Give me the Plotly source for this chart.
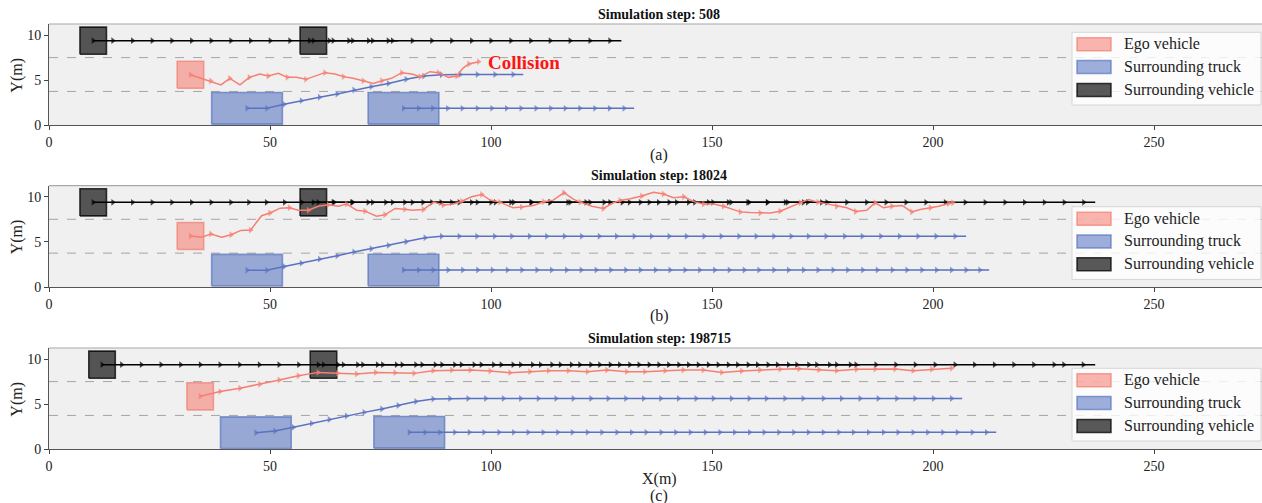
import plotly.graph_objects as go

# ---------------- data ----------------
TITLES = ["Simulation step: 508", "Simulation step: 18024", "Simulation step: 198715"]
CAPTIONS = ["(a)", "(b)", "(c)"]
X_TICKS = [0, 50, 100, 150, 200, 250]
Y_TICKS = [0, 5, 10]
LANE_BOUNDS = [3.75, 7.5]
LEGEND_LABELS = ["Ego vehicle", "Surrounding truck", "Surrounding vehicle"]

CAR_LEN, CAR_WID = 6.0, 3.0
TRUCK_LEN, TRUCK_WID = 16.0, 3.5

# ---- panel (a) ----
EGO_X_A = [32.0, 34.5, 36.6, 38.9, 40.9, 43.2, 45.3, 47.7, 49.6, 51.9, 53.9, 56.0, 58.1, 60.3, 62.4, 64.7,
           66.6, 68.8, 71.1, 73.4, 75.3, 77.5, 79.8, 82.1, 84.0, 86.2, 88.1, 90.4, 92.3, 93.6, 95.0, 97.2]
EGO_Y_A = [5.60, 5.20, 4.90, 4.47, 5.20, 4.47, 5.31, 5.68, 5.46, 5.75, 5.31, 5.31, 5.09, 5.45, 5.83, 5.68,
           5.39, 5.20, 4.94, 4.64, 4.94, 5.20, 5.83, 5.68, 5.39, 5.94, 5.83, 5.31, 5.46, 6.31, 6.79, 7.05]
TRUCK1_X_A = [44.8, 49.3, 53.2, 57.1, 61.2, 65.2, 69.0, 72.9, 76.8, 80.8, 84.8, 88.8, 93.0, 96.9, 100.9, 105.0, 107.3]
TRUCK1_Y_A = [1.88, 1.88, 2.32, 2.73, 3.10, 3.47, 3.91, 4.28, 4.64, 5.10, 5.45, 5.60, 5.625, 5.625, 5.625, 5.625, 5.625]
TRUCK2_X_A = [80.2, 83.6, 86.8, 90.2, 93.5, 96.9, 100.2, 103.5, 106.8, 110.2, 113.5, 116.8, 120.1, 123.5, 126.8, 130.1, 132.4]
TRUCK2_Y_A = [1.875] * 17
CAR1_X_A = [10.0, 14.45, 18.9, 23.35, 27.8, 32.25, 36.7, 41.15, 45.6, 50.05, 54.5, 58.95, 63.4, 67.85, 72.3, 76.75, 79.0]
CAR1_Y_A = [9.375] * 17
CAR2_X_A = [59.8, 64.3, 68.7, 73.2, 77.7, 82.2, 86.6, 91.1, 95.6, 100.0, 104.5, 109.0, 113.4, 117.9, 122.4, 126.9, 129.5]
CAR2_Y_A = [9.375] * 17

# ---- panel (b) ----
EGO_X_B = [32.0, 34.5, 36.6, 39.1, 41.2, 43.4, 45.6, 48.1, 50.0, 52.3, 54.4, 56.4, 58.7, 60.9, 63.2, 65.5,
           67.3, 69.6, 71.5, 74.1, 76.0, 78.3, 80.5, 82.1, 84.7, 87.0, 89.2, 91.5, 93.4, 95.6, 97.9, 99.8,
           102.0, 105.0, 106.9, 109.6, 111.9, 114.1, 116.5, 118.7, 120.2, 122.8, 125.4, 127.7, 129.2, 131.5,
           134.1, 136.8, 139.0, 141.3, 143.6, 146.2, 148.1, 150.4, 152.6, 154.5, 156.4, 158.6, 160.9, 163.2,
           165.4, 167.7, 170.0, 171.8, 174.0, 176.1, 178.2, 180.5, 182.5, 185.0, 186.9, 188.8, 190.7, 193.0,
           195.2, 197.1, 199.4, 201.3, 203.5, 204.5]
EGO_Y_B = [5.65, 5.50, 5.87, 5.50, 5.79, 6.27, 6.30, 7.90, 8.20, 8.73, 8.77, 8.50, 8.50, 8.95, 9.10, 8.95,
           9.20, 8.50, 8.40, 7.85, 8.00, 8.70, 8.60, 8.50, 8.58, 9.40, 9.07, 9.20, 9.50, 9.99, 10.25, 9.63,
           9.40, 8.77, 8.85, 9.03, 9.44, 9.62, 10.44, 9.70, 9.40, 8.95, 8.70, 9.33, 9.59, 9.77,
           10.07, 10.50, 10.30, 9.88, 9.99, 9.40, 9.20, 9.20, 8.95, 8.60, 8.32, 8.25, 8.20, 8.20,
           8.40, 8.84, 9.33, 9.70, 9.40, 9.20, 8.95, 8.77, 8.36, 8.50, 9.33, 8.77, 8.95, 9.03,
           8.32, 8.58, 8.77, 8.95, 9.25, 9.33]
TRUCK1_X_B = [44.8, 49.3, 53.2, 57.1, 61.2, 65.2, 69.0, 72.9, 76.8, 80.8, 85.1, 88.8, 92.8, 96.8, 100.8, 104.7,
              108.7, 112.6, 116.6, 120.5, 124.5, 128.4, 132.4, 136.3, 140.3, 144.2, 148.2, 152.1, 156.1, 160.0,
              164.0, 167.9, 171.8, 175.8, 180.0, 184.0, 188.2, 192.4, 196.6, 200.7, 205.0, 207.5]
TRUCK1_Y_B = [1.86, 1.86, 2.27, 2.64, 3.09, 3.46, 3.87, 4.24, 4.61, 5.02, 5.46, 5.625] + [5.625] * 30
TRUCK2_X_B = [80.2, 83.6, 86.9, 90.3, 93.6, 97.0, 100.3, 103.7, 107.0, 110.4, 113.7, 117.1, 120.4, 123.8,
              127.1, 130.5, 133.8, 137.2, 140.5, 143.9, 147.2, 150.6, 153.9, 157.3, 160.6, 164.0, 167.3,
              170.7, 174.0, 177.4, 180.7, 184.1, 187.4, 190.8, 194.1, 197.5, 200.8, 204.2, 207.5, 210.6, 212.7]
TRUCK2_Y_B = [1.875] * 41
CAR1_X_B = [10.0, 14.45, 18.9, 23.35, 27.8, 32.25, 36.7, 41.15, 45.2, 49.2, 53.3, 57.2, 60.9, 64.5, 68.5,
            72.2, 76.2, 80.5, 84.6, 88.7, 92.8, 96.9, 101.0, 105.1, 109.2, 113.3, 117.4, 121.5, 125.6, 129.7,
            133.8, 137.9, 142.0, 146.1, 150.2, 154.3, 158.4, 162.5, 166.6, 170.7, 174.8, 177.0]
CAR1_Y_B = [9.375] * 42
CAR2_X_B = [59.8, 64.3, 68.7, 73.2, 77.7, 82.2, 86.6, 91.1, 95.6, 100.0, 104.5, 109.0, 113.4, 117.9, 122.4,
            126.9, 131.3, 135.8, 140.3, 144.7, 149.2, 153.7, 158.1, 162.6, 167.1, 171.6, 176.0, 180.5, 185.0,
            189.4, 193.9, 198.4, 202.8, 207.3, 211.8, 216.3, 220.7, 225.2, 229.7, 234.1, 236.7]
CAR2_Y_B = [9.375] * 41

# ---- panel (c) ----
EGO_X_C = [34.2, 38.7, 43.2, 47.7, 52.1, 56.4, 60.9, 65.3, 69.6, 73.9, 78.3, 82.6, 86.9, 91.1, 95.3, 99.8,
           104.3, 108.8, 113.0, 117.5, 121.8, 126.2, 130.7, 134.8, 139.4, 143.5, 148.0, 152.2, 156.7, 160.8,
           165.4, 169.7, 174.2, 178.2, 182.7, 186.9, 191.4, 195.5, 199.7, 204.2]
EGO_Y_C = [5.87, 6.39, 6.76, 7.20, 7.68, 8.15, 8.52, 8.41, 8.34, 8.52, 8.49, 8.41, 8.71, 8.78, 8.78, 8.67,
           8.49, 8.60, 8.71, 8.71, 8.60, 8.78, 8.60, 8.60, 8.71, 8.78, 8.78, 8.52, 8.67, 8.78,
           8.86, 8.93, 8.82, 8.71, 8.86, 8.89, 8.89, 8.71, 8.86, 8.97]
TRUCK1_X_C = [46.8, 51.1, 55.3, 59.4, 63.4, 67.3, 71.3, 75.3, 79.0, 83.0, 86.9, 90.7, 94.8, 98.8, 102.8, 106.7,
              110.7, 114.7, 118.6, 122.6, 126.5, 130.5, 134.5, 138.4, 142.4, 146.4, 150.3, 154.4, 158.4, 162.3,
              166.5, 170.6, 175.2, 179.3, 183.5, 187.6, 191.8, 195.9, 200.1, 204.2, 206.6]
TRUCK1_Y_C = [1.84, 2.03, 2.43, 2.87, 3.31, 3.68, 4.09, 4.46, 4.86, 5.30, 5.57, 5.625] + [5.625] * 29
TRUCK2_X_C = [81.5, 85.1, 88.4, 91.8, 95.1, 98.4, 101.8, 105.1, 108.4, 111.8, 115.1, 118.4, 121.8, 125.1,
              128.5, 131.8, 135.1, 138.5, 141.8, 145.1, 148.5, 151.8, 155.1, 158.5, 161.8, 165.1, 168.5,
              171.8, 175.2, 178.7, 182.0, 185.4, 188.8, 192.1, 195.5, 198.8, 202.2, 205.5, 208.9, 212.1, 214.3]
TRUCK2_Y_C = [1.875] * 41
CAR1_X_C = [12.0, 16.45, 20.9, 25.35, 29.8, 34.25, 38.7, 43.15, 47.6, 52.05, 56.5, 60.95, 65.4, 69.85, 74.3,
            78.6, 83.0, 87.4, 91.8, 96.2, 100.6, 105.0, 109.4, 113.8, 118.2, 122.6, 127.0, 131.4, 135.8,
            140.2, 144.7, 149.2, 153.7, 158.2, 162.7, 167.3, 171.9, 176.6, 181.3, 183.5]
CAR1_Y_C = [9.375] * 40
CAR2_X_C = [62.1, 66.6, 71.0, 75.5, 79.9, 84.4, 88.9, 93.3, 97.8, 102.3, 106.7, 111.2, 115.7, 120.1, 124.6,
            129.1, 133.5, 138.0, 142.5, 146.9, 151.4, 155.8, 160.3, 164.8, 169.2, 173.7, 178.2, 182.6, 187.1,
            191.6, 196.0, 200.5, 205.0, 209.4, 213.9, 218.3, 222.8, 227.4, 229.6, 234.0, 236.7]
CAR2_Y_C = [9.375] * 41

PANELS = [
    dict(ego=(EGO_X_A, EGO_Y_A), trucks=[(TRUCK1_X_A, TRUCK1_Y_A), (TRUCK2_X_A, TRUCK2_Y_A)],
         cars=[(CAR1_X_A, CAR1_Y_A), (CAR2_X_A, CAR2_Y_A)], ego_every=2),
    dict(ego=(EGO_X_B, EGO_Y_B), trucks=[(TRUCK1_X_B, TRUCK1_Y_B), (TRUCK2_X_B, TRUCK2_Y_B)],
         cars=[(CAR1_X_B, CAR1_Y_B), (CAR2_X_B, CAR2_Y_B)], ego_every=2),
    dict(ego=(EGO_X_C, EGO_Y_C), trucks=[(TRUCK1_X_C, TRUCK1_Y_C), (TRUCK2_X_C, TRUCK2_Y_C)],
         cars=[(CAR1_X_C, CAR1_Y_C), (CAR2_X_C, CAR2_Y_C)], ego_every=1),
]

# ---------------- style ----------------
W, H = 1262, 503
FONT = "Liberation Serif"
EGO_LINE = "#F67F72"
EGO_FILL = "rgba(246,120,108,0.55)"
EGO_EDGE = "rgba(240,120,108,0.65)"
TRUCK_LINE = "#5A72C0"
TRUCK_FILL = "rgba(80,109,189,0.55)"
TRUCK_EDGE = "rgba(80,109,189,0.65)"
CAR_LINE = "#000000"
CAR_FILL = "rgba(0,0,0,0.65)"
CAR_EDGE = "rgba(0,0,0,0.75)"

PLOT_L, PLOT_R = 49, 1262
PLOT_TB = [(24.0, 125.3), (185.7, 287.0), (348.0, 449.3)]
LEGEND_OFFSET = [8.3, 21.0, 20.3]
X_RANGE = [0, (PLOT_R - PLOT_L) / 4.42]
Y_RANGE = [0, 11.22]


def px(xp):
    return xp / W


def py(yp):
    return 1 - yp / H


fig = go.Figure()


def marker_sizes(n, every, mark_last):
    s = [6 if i % every == 0 else 0 for i in range(n)]
    s[-1] = 6 if mark_last else 0
    return s


def add_rect(cx, cy, length, width, fill, edge, xa, ya):
    x0, x1 = cx - length / 2, cx + length / 2
    y0, y1 = cy - width / 2, cy + width / 2
    fig.add_trace(go.Scatter(x=[x0, x1, x1, x0, x0], y=[y0, y0, y1, y1, y0], mode="lines",
                             fill="toself", fillcolor=fill, line=dict(color=edge, width=1.6),
                             xaxis=xa, yaxis=ya, hoverinfo="skip", showlegend=False))


def add_traj(xs, ys, color, every, mark_last, xa, ya):
    fig.add_trace(go.Scatter(x=xs, y=ys, mode="lines+markers",
                             line=dict(color=color, width=1.5),
                             marker=dict(symbol="triangle-right", color=color,
                                         size=marker_sizes(len(xs), every, mark_last),
                                         line=dict(width=0)),
                             xaxis=xa, yaxis=ya, hoverinfo="skip", showlegend=False))


layout = dict(width=W, height=H, margin=dict(l=0, r=0, t=0, b=0, autoexpand=False),
              paper_bgcolor="white", plot_bgcolor="#F0F0F0", showlegend=False,
              font=dict(family=FONT, color="#222"))
shapes = []
annotations = []

for i, P in enumerate(PANELS):
    sfx = "" if i == 0 else str(i + 1)
    xa, ya = "x" + sfx, "y" + sfx
    top, bot = PLOT_TB[i]
    axis_common = dict(showgrid=False, zeroline=False, showline=True, linecolor="#555", linewidth=1,
                       ticks="outside", ticklen=4, tickwidth=1, tickcolor="#444", automargin=False,
                       tickfont=dict(family=FONT, size=14, color="#222"))
    layout["xaxis" + sfx] = dict(domain=[px(PLOT_L), 1], range=X_RANGE, anchor=ya,
                                 tickvals=X_TICKS, **axis_common)
    layout["yaxis" + sfx] = dict(domain=[py(bot), py(top)], range=Y_RANGE, anchor=xa,
                                 tickvals=Y_TICKS, **axis_common)

    # lane boundaries
    for yb in LANE_BOUNDS:
        shapes.append(dict(type="line", xref=xa + " domain", yref=ya, x0=0, x1=1, y0=yb, y1=yb,
                           line=dict(color="#A5A5A5", width=1, dash="dash"), layer="below"))
    # top border
    shapes.append(dict(type="line", xref=xa + " domain", yref=ya + " domain", x0=0, x1=1, y0=1, y1=1,
                       line=dict(color="#A8A8A8", width=1.2)))

    # vehicle boxes at initial positions
    for (tx, ty) in P["trucks"]:
        add_rect(tx[0], ty[0], TRUCK_LEN, TRUCK_WID, TRUCK_FILL, TRUCK_EDGE, xa, ya)
    for (cx, cy) in P["cars"]:
        add_rect(cx[0], cy[0], CAR_LEN, CAR_WID, CAR_FILL, CAR_EDGE, xa, ya)
    ex, ey = P["ego"]
    add_rect(ex[0], ey[0], CAR_LEN, CAR_WID, EGO_FILL, EGO_EDGE, xa, ya)

    # trajectories
    for (cx, cy) in P["cars"]:
        add_traj(cx, cy, CAR_LINE, 1, False, xa, ya)
    for (tx, ty) in P["trucks"]:
        add_traj(tx, ty, TRUCK_LINE, 1, False, xa, ya)
    add_traj(ex, ey, EGO_LINE, P["ego_every"], True, xa, ya)

    # title & caption
    annotations.append(dict(text="<b>" + TITLES[i] + "</b>", xref="paper", yref="paper",
                            x=px(659), y=py(top - 10), xanchor="center", yanchor="middle",
                            showarrow=False, font=dict(family=FONT, size=14, color="#111")))
    cap_y = [155, 316, 496][i]
    annotations.append(dict(text=CAPTIONS[i], xref="paper", yref="paper", x=px(659), y=py(cap_y),
                            xanchor="center", yanchor="middle", showarrow=False,
                            font=dict(family=FONT, size=16, color="#222")))
    annotations.append(dict(text="Y(m)", xref="paper", yref="paper", x=px(17), y=py((top + bot) / 2 + 1),
                            xanchor="center", yanchor="middle", textangle=-90, showarrow=False,
                            font=dict(family=FONT, size=16, color="#222")))

    # manual legend
    lx0, lx1 = 1072, 1261
    ltop = top + LEGEND_OFFSET[i]
    lbot = ltop + 72.7
    shapes.append(dict(type="rect", xref="paper", yref="paper", x0=px(lx0), x1=px(lx1),
                       y0=py(lbot), y1=py(ltop), fillcolor="rgba(255,255,255,0.8)",
                       line=dict(color="#D6D6D6", width=1), layer="above"))
    fills = [(EGO_FILL, EGO_EDGE), (TRUCK_FILL, TRUCK_EDGE), (CAR_FILL, CAR_EDGE)]
    for k, lab in enumerate(LEGEND_LABELS):
        rc = ltop + 12.0 + k * 22.8
        shapes.append(dict(type="rect", xref="paper", yref="paper", x0=px(1077), x1=px(1111),
                           y0=py(rc + 6.5), y1=py(rc - 6.5), fillcolor=fills[k][0],
                           line=dict(color=fills[k][1], width=1.5), layer="above"))
        annotations.append(dict(text=lab, xref="paper", yref="paper", x=px(1122), y=py(rc),
                                xanchor="left", yanchor="middle", showarrow=False,
                                font=dict(family=FONT, size=16, color="#222")))

# collision label
annotations.append(dict(text="<b>Collision</b>", xref="x", yref="y", x=107.5, y=7.0,
                        xanchor="center", yanchor="middle", showarrow=False,
                        font=dict(family=FONT, size=19, color="#FF1414")))
# x-axis label
annotations.append(dict(text="X(m)", xref="paper", yref="paper", x=px(659), y=py(479),
                        xanchor="center", yanchor="middle", showarrow=False,
                        font=dict(family=FONT, size=16, color="#222")))

layout["shapes"] = shapes
layout["annotations"] = annotations
fig.update_layout(**layout)
fig.write_html("out.html", config={"displayModeBar": False},
               post_script="document.body.style.margin='0px';document.body.style.padding='0px';")
